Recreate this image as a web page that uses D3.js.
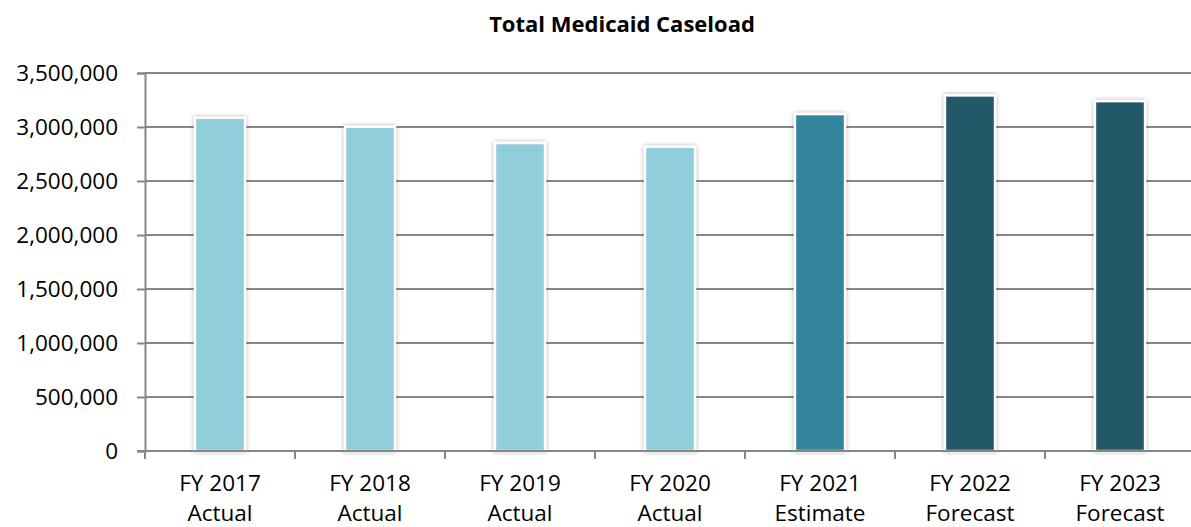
<!DOCTYPE html>
<html><head><meta charset="utf-8">
<script src="https://cdn.jsdelivr.net/npm/d3@7"></script>
<style>body{margin:0;background:#fff;} svg{display:block;}</style>
</head><body>
<svg id="chart" width="1191" height="527"></svg>
<script>
const years = ["FY 2017","FY 2018","FY 2019","FY 2020","FY 2021","FY 2022","FY 2023"];
const kinds = ["Actual","Actual","Actual","Actual","Estimate","Forecast","Forecast"];
const caseload = [3074000, 2991000, 2840000, 2805000, 3108000, 3281000, 3228000];
const barColors = ["#92CDDC","#92CDDC","#92CDDC","#92CDDC","#31859C","#215968","#215968"];
const yTicks = [0,500000,1000000,1500000,2000000,2500000,3000000,3500000];
const title = "Total Medicaid Caseload";

const svg = d3.select("#chart");
const font = "'Open Sans', sans-serif";
const mLeft = 145, mRight = 1195, mTop = 73, mBottom = 451;

const x = d3.scaleBand().domain(years).range([mLeft, mRight]).paddingInner(0).paddingOuter(0);
const y = d3.scaleLinear().domain([0, 3500000]).range([mBottom, mTop]);

const defs = svg.append("defs");
const f = defs.append("filter").attr("id","sh").attr("x","-30%").attr("y","-10%").attr("width","160%").attr("height","120%");
f.append("feDropShadow").attr("dx",0).attr("dy",0).attr("stdDeviation",2.2).attr("flood-color","#000").attr("flood-opacity",0.35);

svg.append("text").attr("x", 622).attr("y", 32).attr("text-anchor","middle")
  .attr("font-family", font).attr("font-weight","bold").attr("font-size", 22).attr("fill","#000").text(title);

// gridlines
svg.append("g").selectAll("line").data(yTicks.filter(d=>d>0)).join("line")
  .attr("x1", mLeft).attr("x2", 1191).attr("y1", d=>y(d)).attr("y2", d=>y(d))
  .attr("stroke","#868686").attr("stroke-width",2);

// y axis
const yAxis = svg.append("g").attr("transform",`translate(${mLeft},0)`)
  .call(d3.axisLeft(y).tickValues(yTicks).tickFormat(d3.format(",")).tickSize(8).tickPadding(19));
yAxis.select(".domain").attr("stroke","#868686").attr("stroke-width",2);
yAxis.selectAll(".tick line").attr("stroke","#868686").attr("stroke-width",2);
yAxis.selectAll("text").attr("font-family", font).attr("font-size", 22.5).attr("fill","#000");

// x axis
const xAxis = svg.append("g").attr("transform",`translate(0,${mBottom})`)
  .call(d3.axisBottom(x).tickValues([]).tickSizeOuter(0));
xAxis.select(".domain").attr("stroke","#868686").attr("stroke-width",2).attr("d", `M${mLeft-8},0H1191`);
const boundaries = d3.range(years.length).map(i => x.range()[0] + i * x.bandwidth());
xAxis.selectAll("line.b").data(boundaries).join("line").attr("class","b")
  .attr("x1", d=>d).attr("x2", d=>d).attr("y1",0).attr("y2",8)
  .attr("stroke","#868686").attr("stroke-width",2);

// bars
const bw = 50;
svg.append("g").selectAll("rect").data(years).join("rect")
  .attr("x", d => x(d) + x.bandwidth()/2 - bw/2)
  .attr("y", (d,i) => y(caseload[i]) - 1.2)
  .attr("width", bw)
  .attr("height", (d,i) => mBottom - y(caseload[i]) + 1.2)
  .attr("fill", (d,i) => barColors[i])
  .attr("stroke","#fff").attr("stroke-width",2.4)
  .attr("filter","url(#sh)");

// redraw baseline on top of bars
svg.append("line").attr("x1", mLeft-8).attr("x2",1191).attr("y1",mBottom).attr("y2",mBottom)
  .attr("stroke","#868686").attr("stroke-width",2);

// x labels
const lab = svg.append("g").selectAll("text").data(years).join("text")
  .attr("x", d => x(d) + x.bandwidth()/2).attr("text-anchor","middle")
  .attr("font-family", font).attr("font-size", 22.5).attr("fill","#000");
lab.append("tspan").attr("x", d => x(d) + x.bandwidth()/2).attr("y", 491).text(d=>d);
lab.append("tspan").attr("x", d => x(d) + x.bandwidth()/2).attr("y", 521).text((d,i)=>kinds[i]);
</script>
</body></html>
